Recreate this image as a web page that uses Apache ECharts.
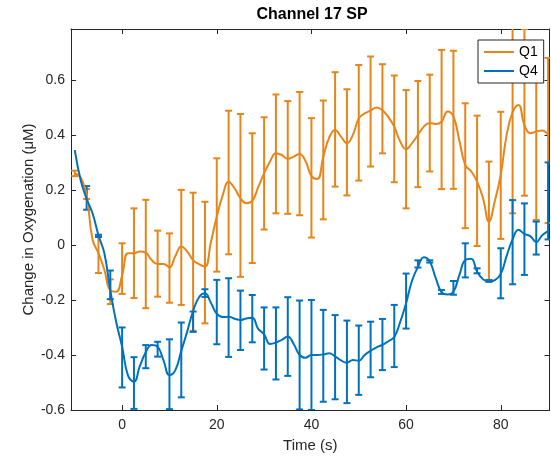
<!DOCTYPE html>
<html>
<head>
<meta charset="utf-8">
<script src="https://cdn.jsdelivr.net/npm/echarts@6/dist/echarts.min.js"></script>
<style>
  html, body { margin: 0; padding: 0; background: #fff; }
  #chart { width: 551px; height: 460px; }
</style>
</head>
<body>
<div id="chart"></div>
<script>
// Sample times of the smoothed traces (s)
const lineT = [
  -10, -8.75, -7.5, -6.25, -5, -3.75, -2.5, -1.25, 0, 1.25,
  2.5, 3.75, 5, 6.25, 7.5, 8.75, 10, 11.25, 12.5, 13.75,
  15, 16.25, 17.5, 18.75, 20, 21.25, 22.5, 23.75, 25, 26.25,
  27.5, 28.75, 30, 31.25, 32.5, 33.75, 35, 36.25, 37.5, 38.75,
  40, 41.25, 42.5, 43.75, 45, 46.25, 47.5, 48.75, 50, 51.25,
  52.5, 53.75, 55, 56.25, 57.5, 58.75, 60, 61.25, 62.5, 63.75,
  65, 66.25, 67.5, 68.75, 70, 71.25, 72.5, 73.75, 75, 76.25,
  77.5, 78.75, 80, 81.25, 82.5, 83.75, 85, 86.25, 87.5, 88.75, 90
];

// Q1 smoothed trace (µM)
const q1Line = [
  0.26, 0.245, 0.18, 0.02, -0.03, -0.09, -0.165, -0.17, -0.11, -0.03,
  -0.03, -0.024, -0.028, -0.055, -0.069, -0.069, -0.081, -0.04, -0.006, -0.024,
  -0.055, -0.07, -0.079, 0.01, 0.103, 0.18, 0.23, 0.206, 0.17, 0.152,
  0.16, 0.21, 0.26, 0.303, 0.333, 0.327, 0.313, 0.321, 0.331, 0.305,
  0.25, 0.24, 0.32, 0.39, 0.418, 0.394, 0.37, 0.4, 0.46, 0.478,
  0.488, 0.5, 0.49, 0.465, 0.43, 0.376, 0.348, 0.37, 0.4, 0.43,
  0.443, 0.44, 0.448, 0.485, 0.467, 0.38, 0.29, 0.268, 0.23, 0.17,
  0.085, 0.16, 0.255, 0.4, 0.482, 0.509, 0.436, 0.406, 0.412, 0.416, 0.4
];

// Q4 smoothed trace (µM)
const q4Line = [
  0.345, 0.235, 0.168, 0.115, 0.035, -0.03, -0.165, -0.28, -0.37, -0.475,
  -0.497, -0.44, -0.39, -0.364, -0.37, -0.42, -0.473, -0.455, -0.385, -0.315,
  -0.24, -0.19, -0.176, -0.21, -0.25, -0.262, -0.261, -0.268, -0.273, -0.267,
  -0.265, -0.305, -0.325, -0.36, -0.355, -0.345, -0.333, -0.36, -0.4, -0.41,
  -0.4, -0.4, -0.398, -0.394, -0.405, -0.42, -0.428, -0.418, -0.421, -0.4,
  -0.385, -0.372, -0.363, -0.35, -0.335, -0.28, -0.212, -0.13, -0.08, -0.045,
  -0.06, -0.12, -0.172, -0.18, -0.17, -0.11, -0.055, -0.05, -0.097, -0.125,
  -0.133, -0.128, -0.105, -0.04, 0.02, 0.055, 0.04, 0.032, 0.01, 0.035, 0.05
];

// Error-bar sample times (s)
const barT = [
  -10, -7.5, -5, -2.5, 0, 2.5, 5, 7.5, 10, 12.5,
  15, 17.5, 20, 22.5, 25, 27.5, 30, 32.5, 35, 37.5,
  40, 42.5, 45, 47.5, 50, 52.5, 55, 57.5, 60, 62.5,
  65, 67.5, 70, 72.5, 75, 77.5, 80, 82.5, 85, 87.5, 90
];

// Q1 mean and half-width of the error bars
const q1Mean = [
  0.26, 0.185, -0.035, -0.17, -0.086, -0.03, -0.033, -0.068, -0.084, -0.009,
  -0.061, -0.064, 0.109, 0.227, 0.18, 0.17, 0.26, 0.331, 0.318, 0.332,
  0.244, 0.309, 0.42, 0.373, 0.444, 0.485, 0.495, 0.422, 0.348, 0.403,
  0.443, 0.456, 0.455, 0.288, 0.233, 0.088, 0.253, 0.482, 0.482, 0.412, 0.38
];
const q1Err = [
  0.01, 0.018, 0.067, 0.045, 0.092, 0.163, 0.197, 0.12, 0.126, 0.209,
  0.251, 0.221, 0.206, 0.261, 0.296, 0.236, 0.204, 0.216, 0.205, 0.224,
  0.217, 0.216, 0.208, 0.193, 0.21, 0.2, 0.162, 0.194, 0.215, 0.193,
  0.176, 0.253, 0.251, 0.227, 0.237, 0.215, 0.231, 0.367, 0.303, 0.321, 0.3
];

// Q4 mean and half-width of the error bars (null: no bar at that time)
const q4Mean = [
  null, 0.171, 0.033, -0.145, -0.409, -0.502, -0.406, -0.379, -0.47, -0.418,
  -0.279, -0.175, -0.244, -0.264, -0.274, -0.268, -0.34, -0.358, -0.333, -0.4,
  -0.4, -0.403, -0.408, -0.425, -0.419, -0.38, -0.362, -0.331, -0.204, -0.069,
  -0.06, -0.171, -0.156, -0.056, -0.094, -0.131, -0.103, 0.01, 0.021, 0.025, 0.16
];
const q4Err = [
  null, 0.043, 0.004, 0.052, 0.109, 0.094, 0.042, 0.027, 0.127, 0.136,
  0.037, 0.014, 0.117, 0.143, 0.108, 0.086, 0.113, 0.131, 0.143, 0.198,
  0.2, 0.167, 0.153, 0.15, 0.126, 0.101, 0.093, 0.113, 0.1, 0.013,
  0.004, 0.007, 0.025, 0.062, 0.009, 0.003, 0.091, 0.153, 0.13, 0.06, 0.14
];

const xTicks = [0, 20, 40, 60, 80];
const yTicks = [-0.6, -0.4, -0.2, 0, 0.2, 0.4, 0.6];

const ORANGE = '#E6861A';
const BLUE = '#0072BD';
const INK = '#262626';
const FONT = "'Liberation Sans', Arial, Helvetica, sans-serif";

function pairs(xs, ys) {
  return xs.map((x, i) => [x, ys[i]]);
}

function barRows(xs, mean, err) {
  const rows = [];
  xs.forEach((x, i) => {
    if (mean[i] == null || err[i] == null) return;
    rows.push([x, mean[i] - err[i], mean[i] + err[i]]);
  });
  return rows;
}

// Vertical whisker with a short cap at each end
function errorBarRenderer(color) {
  return function (params, api) {
    const x = api.value(0);
    const lo = api.coord([x, api.value(1)]);
    const hi = api.coord([x, api.value(2)]);
    const half = 3.5;
    const style = { stroke: color, lineWidth: 2, fill: null };
    return {
      type: 'group',
      children: [
        { type: 'line', shape: { x1: lo[0], y1: lo[1], x2: hi[0], y2: hi[1] }, style: style },
        { type: 'line', shape: { x1: lo[0] - half, y1: lo[1], x2: lo[0] + half, y2: lo[1] }, style: style },
        { type: 'line', shape: { x1: hi[0] - half, y1: hi[1], x2: hi[0] + half, y2: hi[1] }, style: style }
      ]
    };
  };
}

const X_MIN = -10.8, X_MAX = 90.3;
const Y_MIN = -0.6, Y_MAX = 0.785;

function fmt(v) {
  return String(Math.round(v * 10) / 10);
}

const boxAxisLine = { show: true, onZero: false, lineStyle: { color: INK, width: 1 } };

const chart = echarts.init(document.getElementById('chart'), null, { renderer: 'canvas' });
chart.setOption({
  animation: false,
  backgroundColor: '#fff',
  title: {
    text: 'Channel 17 SP',
    left: 312,
    textAlign: 'center',
    top: 7,
    padding: 0,
    textStyle: { fontFamily: FONT, fontSize: 16, fontWeight: 'bold', color: '#000' }
  },
  legend: {
    data: [
      { name: 'Q1', icon: 'rect', itemStyle: { color: ORANGE } },
      { name: 'Q4', icon: 'rect', itemStyle: { color: BLUE } }
    ],
    orient: 'vertical',
    left: 478,
    top: 40,
    padding: [4, 6, 4, 6],
    itemWidth: 30,
    itemHeight: 2,
    itemGap: 3,
    backgroundColor: '#fff',
    borderColor: INK,
    borderWidth: 1,
    borderRadius: 0,
    textStyle: { fontFamily: FONT, fontSize: 14, color: '#000', lineHeight: 16 }
  },
  grid: { left: 71, right: 1.5, top: 29, bottom: 50, containLabel: false },
  xAxis: [
    {
      type: 'value', min: X_MIN, max: X_MAX, position: 'bottom',
      axisLine: boxAxisLine,
      axisTick: { show: true, inside: true, length: 5, customValues: xTicks, lineStyle: { color: INK } },
      axisLabel: { customValues: xTicks, formatter: fmt, color: INK, fontFamily: FONT, fontSize: 14, margin: 8 },
      splitLine: { show: false },
      name: 'Time (s)', nameLocation: 'middle', nameGap: 28, nameMoveOverlap: false,
      nameTextStyle: { fontFamily: FONT, fontSize: 15, color: INK }
    },
    {
      type: 'value', min: X_MIN, max: X_MAX, position: 'top',
      axisLine: boxAxisLine,
      axisTick: { show: true, inside: true, length: 5, customValues: xTicks, lineStyle: { color: INK } },
      axisLabel: { show: false },
      splitLine: { show: false }
    }
  ],
  yAxis: [
    {
      type: 'value', min: Y_MIN, max: Y_MAX, position: 'left',
      axisLine: boxAxisLine,
      axisTick: { show: true, inside: true, length: 5, customValues: yTicks, lineStyle: { color: INK } },
      axisLabel: { customValues: yTicks, formatter: fmt, color: INK, fontFamily: FONT, fontSize: 14, margin: 6 },
      splitLine: { show: false },
      name: 'Change in Oxygenation (μM)', nameLocation: 'middle', nameGap: 35, nameMoveOverlap: false,
      nameTextStyle: { fontFamily: FONT, fontSize: 15, color: INK }
    },
    {
      type: 'value', min: Y_MIN, max: Y_MAX, position: 'right',
      axisLine: boxAxisLine,
      axisTick: { show: true, inside: true, length: 5, customValues: yTicks, lineStyle: { color: INK } },
      axisLabel: { show: false },
      splitLine: { show: false }
    }
  ],
  series: [
    {
      name: 'Q1 error', type: 'custom', xAxisIndex: 0, yAxisIndex: 0, clip: true,
      renderItem: errorBarRenderer(ORANGE),
      encode: { x: 0, y: [1, 2] },
      data: barRows(barT, q1Mean, q1Err)
    },
    {
      name: 'Q1', type: 'line', xAxisIndex: 0, yAxisIndex: 0,
      data: pairs(lineT, q1Line), smooth: 0.45, symbol: 'none',
      color: ORANGE, lineStyle: { color: ORANGE, width: 2 }
    },
    {
      name: 'Q4 error', type: 'custom', xAxisIndex: 0, yAxisIndex: 0, clip: true,
      renderItem: errorBarRenderer(BLUE),
      encode: { x: 0, y: [1, 2] },
      data: barRows(barT, q4Mean, q4Err)
    },
    {
      name: 'Q4', type: 'line', xAxisIndex: 0, yAxisIndex: 0,
      data: pairs(lineT, q4Line), smooth: 0.45, symbol: 'none',
      color: BLUE, lineStyle: { color: BLUE, width: 2 }
    }
  ]
});
</script>
</body>
</html>
